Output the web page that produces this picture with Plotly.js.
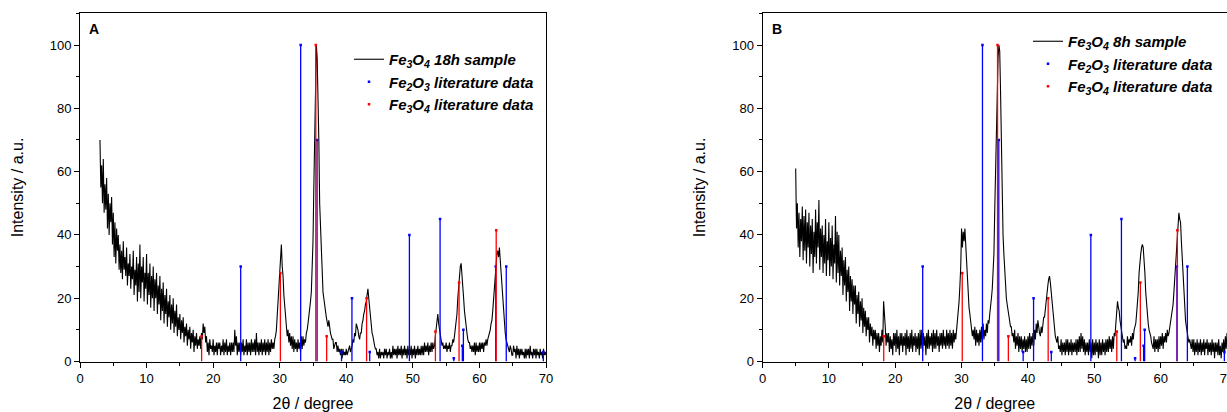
<!DOCTYPE html>
<html><head><meta charset="utf-8">
<script src="https://cdn.plot.ly/plotly-3.0.1.min.js"></script>
<style>html,body{margin:0;padding:0;background:#fff}#chart{width:1227px;height:412px}</style>
</head><body><div id="chart"></div>
<script>
// Scan settings (2θ start and step, degrees) — the diffractograms are sampled on a regular grid
const scanStartA = 3;
const scanStartB = 5;
const scanStep = 0.125;

// ---- Panel A: Fe3O4 18h sample, one row per degree (8 points), 3° .. 70° ----
const intensityA = [
70,55,62,50,64,47,56,48,
58,42,53,40,50,44,52,37,
47,33,44,31,42,35,40,29,
37,28,35,26,38,29,33,27,
36,24,31,27,34,23,30,26,
35,21,29,24,33,19,31,22,
37,20,30,25,33,19,28,23,
34,18,28,21,31,17,27,20,
30,16,26,20,28,15,24,18,
27,13,23,16,25,12,21,15,
23,11,19,14,21,10,18,12,
20,9,16,11,18,8,14,10,
15,7,13,9,14,6,11,8,
12,5,10,7,11,4,9,6,
10,3,8,5,9,4,7,5,
8,4,9,7,12,9,11,6,
8,3,6,2,7,4,5,3,
7,2,5,3,6,2,6,4,
6,2,5,3,7,2,6,3,
7,2,5,3,6,2,6,3,
6,3,10,5,8,2,6,3,
6,2,6,3,7,2,5,3,
7,2,6,3,6,2,7,3,
6,3,7,2,9,3,6,2,
6,3,7,2,6,3,7,2,
6,3,7,2,6,3,7,4,
6,4,7,8,10,14,19,24,
28,33,37,30,27,21,17,14,
12,8,10,6,9,5,8,4,
8,3,7,4,6,3,7,4,
6,3,8,4,8,5,7,6,
9,10,12,14,16,19,22,28,
38,55,72,90,100,96,85,70,
50,42,35,28,22,20,17,16,
14,12,11,13,10,9,8,7,
7,4,5,6,6,3,5,3,
4,2,4,1,4,2,3,2,
4,2,3,4,5,3,4,5,
7,6,9,8,12,11,10,8,
7,9,9,12,13,15,16,18,
19,21,23,20,17,14,11,9,
8,6,5,4,4,2,3,1,
4,1,3,2,3,1,4,2,
4,1,3,2,4,1,3,1,
5,2,4,2,4,1,5,2,
4,2,5,1,4,2,5,2,
4,1,5,2,4,2,5,1,
4,2,5,1,4,2,5,2,
4,2,5,2,5,2,6,3,
5,3,6,2,5,3,6,3,
6,4,5,8,11,13,15,12,
10,8,7,5,6,4,5,4,
6,3,5,4,6,3,5,5,
7,6,8,10,12,15,20,24,
28,30,31,28,24,20,16,13,
11,9,7,6,6,4,5,3,
5,3,6,2,6,3,5,3,
6,3,6,4,6,3,6,5,
7,5,7,8,9,10,12,13,
16,20,24,29,33,34,35,33,
36,32,28,23,18,14,11,9,
7,6,5,4,3,5,4,2,
2,5,3,4,1,5,2,4,
1,4,2,4,2,3,1,4,
1,4,2,4,1,5,2,3,
1,4,2,4,1,4,2,3,
1,4,2,3,1,4,2,3,
2];

// ---- Panel B: Fe3O4 8h sample, one row per degree (8 points), 5° .. 70° ----
const intensityB = [
61,42,50,36,47,33,45,38,
49,32,46,35,48,31,44,36,
47,30,43,34,45,28,41,33,
48,31,44,36,51,29,42,33,
43,28,40,31,45,27,38,32,
44,27,39,30,43,26,37,31,
46,25,41,28,40,24,35,27,
36,21,32,24,33,19,29,22,
30,16,27,19,26,15,24,18,
24,12,21,15,22,11,19,13,
20,9,17,11,16,8,14,10,
14,6,12,8,11,5,10,7,
10,4,9,5,9,3,8,5,
10,6,19,12,11,5,9,6,
9,3,8,4,7,2,9,5,
9,3,10,4,8,2,9,5,
9,3,8,5,9,2,10,4,
8,3,9,4,10,3,8,5,
9,3,8,4,9,2,10,4,
10,3,9,5,8,2,9,4,
10,4,8,5,9,3,10,4,
9,4,10,5,8,3,9,5,
9,4,10,5,8,4,10,5,
9,4,10,5,9,4,10,6,
9,7,10,12,14,19,24,30,
42,36,41,38,42,36,30,26,
22,17,15,12,11,8,10,7,
11,5,10,6,9,5,10,6,
11,6,12,7,10,8,12,9,
13,12,15,17,20,23,27,34,
48,62,80,90,96,100,98,85,
68,52,40,34,28,24,20,18,
16,14,13,11,11,8,9,6,
10,4,8,5,9,3,8,4,
8,3,7,4,8,3,7,3,
8,4,9,4,8,5,9,5,
10,7,12,9,13,10,9,8,
11,9,12,14,14,17,18,21,
24,26,27,25,22,18,15,12,
10,8,7,6,8,4,5,3,
7,2,6,3,6,2,7,3,
7,2,6,3,7,2,6,3,
6,3,7,2,7,3,8,3,
9,4,8,3,7,2,6,3,
6,2,7,3,6,1,7,2,
6,2,7,3,6,1,7,2,
6,2,7,3,6,2,7,3,
7,3,8,4,7,3,8,4,
9,8,12,16,19,17,16,13,
11,9,8,6,7,4,5,4,
8,5,7,6,8,5,9,7,
10,11,12,15,18,22,28,32,
34,36,37,36,33,28,22,18,
14,12,10,9,8,6,5,4,
8,3,7,4,7,3,8,4,
8,5,9,4,8,6,9,6,
10,8,9,11,13,14,16,18,
22,26,30,35,40,44,47,45,
44,38,32,26,20,16,13,11,
9,7,6,7,5,4,7,3,
7,2,6,3,7,2,6,3,
7,2,6,3,7,2,6,4,
7,2,6,3,6,2,7,3,
6,1,6,3,6,2,7,2,
5,1,6,3,7,2,8,4,
9];

// ---- Literature reference patterns (stick lines) ----
const fe2o3Angles    = [24.14, 33.15, 35.61, 39.28, 40.85, 43.52, 49.48, 54.09, 56.15, 57.43, 57.59, 62.45, 64.03, 69.60];
const fe2o3Intensity = [30, 100, 70, 3, 20, 3, 40, 45, 1, 5, 10, 30, 30, 3];
const fe3o4Angles    = [18.27, 30.10, 35.42, 37.05, 43.05, 53.39, 56.94, 62.52];
const fe3o4Intensity = [8, 28, 100, 8, 20, 9.5, 25, 41.5];

const sampleLabelA = '<b><i>Fe<sub>3</sub>O<sub>4</sub> 18h sample</i></b>';
const sampleLabelB = '<b><i>Fe<sub>3</sub>O<sub>4</sub> 8h sample</i></b>';
const fe2o3Label   = '<b><i>Fe<sub>2</sub>O<sub>3</sub> literature data</i></b>';
const fe3o4Label   = '<b><i>Fe<sub>3</sub>O<sub>4</sub> literature data</i></b>';
const panelLabels  = ['A', 'B'];
const xTitle = '2θ / degree';
const yTitle = 'Intensity / a.u.';

const FONT = 'Arial, "Liberation Sans", Helvetica, sans-serif';

function sticks(x, y, name, color, xa, ya, leg) {
  return {
    type: 'scatter', mode: 'markers', x: x, y: y, name: name,
    xaxis: xa, yaxis: ya, legend: leg, cliponaxis: true,
    marker: {symbol: 'square', size: 2.5, color: color, line: {width: 0}},
    error_y: {type: 'percent', symmetric: false, value: 0, valueminus: 100,
              width: 0, thickness: 1.3, color: color},
    hoverinfo: 'x+y'
  };
}

const traces = [
  {type: 'scatter', mode: 'lines', x0: scanStartA, dx: scanStep, y: intensityA, name: sampleLabelA,
   xaxis: 'x', yaxis: 'y', legend: 'legend', line: {color: '#000', width: 1.1}},
  sticks(fe2o3Angles, fe2o3Intensity, fe2o3Label, '#0000ff', 'x', 'y', 'legend'),
  sticks(fe3o4Angles, fe3o4Intensity, fe3o4Label, '#ff0000', 'x', 'y', 'legend'),
  {type: 'scatter', mode: 'lines', x0: scanStartB, dx: scanStep, y: intensityB, name: sampleLabelB,
   xaxis: 'x2', yaxis: 'y2', legend: 'legend2', line: {color: '#000', width: 1.1}},
  sticks(fe2o3Angles, fe2o3Intensity, fe2o3Label, '#0000ff', 'x2', 'y2', 'legend2'),
  sticks(fe3o4Angles, fe3o4Intensity, fe3o4Label, '#ff0000', 'x2', 'y2', 'legend2')
];

const W = 1227, H = 412;
function xAxis(d0, d1, anchor) {
  return {
    domain: [d0 / W, d1 / W], anchor: anchor, range: [0, 70], dtick: 10, tick0: 0,
    showgrid: false, zeroline: false, showline: true, linecolor: '#000', linewidth: 1,
    mirror: true, ticks: 'outside', ticklen: 5, tickwidth: 1, tickcolor: '#000',
    minor: {dtick: 5, ticks: 'outside', ticklen: 3, tickwidth: 1, tickcolor: '#000', showgrid: false},
    tickfont: {family: FONT, size: 13, color: '#000'}, automargin: false, ticklabeloverflow: 'allow',
    title: {text: xTitle, font: {family: FONT, size: 16, color: '#000'}, standoff: 12}
  };
}
function yAxis(anchor) {
  return {
    domain: [(H - 361.5) / H, (H - 13.4) / H], anchor: anchor, range: [0, 110], dtick: 20, tick0: 0,
    showgrid: false, zeroline: false, showline: true, linecolor: '#000', linewidth: 1,
    mirror: true, ticks: 'outside', ticklen: 5, tickwidth: 1, tickcolor: '#000',
    minor: {dtick: 10, ticks: 'outside', ticklen: 3, tickwidth: 1, tickcolor: '#000', showgrid: false},
    tickfont: {family: FONT, size: 13, color: '#000'}, automargin: false,
    title: {text: yTitle, font: {family: FONT, size: 16, color: '#000'}, standoff: 22}
  };
}
const legendFont = {family: FONT, size: 15, color: '#000', weight: 'bold', style: 'italic'};

const layout = {
  width: W, height: H, margin: {l: 0, r: 0, t: 0, b: 0},
  paper_bgcolor: '#fff', plot_bgcolor: '#fff',
  xaxis: xAxis(80, 546, 'y'), yaxis: yAxis('x'),
  xaxis2: xAxis(762.5, 1227, 'y2'), yaxis2: yAxis('x2'),
  legend: {x: 349 / W, xanchor: 'left', y: 1 - 43 / H, yanchor: 'top',
           bgcolor: 'rgba(0,0,0,0)', font: legendFont, tracegroupgap: 7},
  legend2: {x: 1028 / W, xanchor: 'left', y: 1 - 25 / H, yanchor: 'top',
            bgcolor: 'rgba(0,0,0,0)', font: legendFont, tracegroupgap: 8},
  annotations: [
    {xref: 'x domain', yref: 'y domain', x: 0.016, y: 0.955, xanchor: 'left', yanchor: 'middle',
     text: '<b>' + panelLabels[0] + '</b>', showarrow: false, font: {family: FONT, size: 14, color: '#000'}},
    {xref: 'x2 domain', yref: 'y2 domain', x: 0.016, y: 0.955, xanchor: 'left', yanchor: 'middle',
     text: '<b>' + panelLabels[1] + '</b>', showarrow: false, font: {family: FONT, size: 14, color: '#000'}}
  ],
  showlegend: true
};

Plotly.newPlot('chart', traces, layout, {displayModeBar: false, staticPlot: true});
</script>
</body></html>
